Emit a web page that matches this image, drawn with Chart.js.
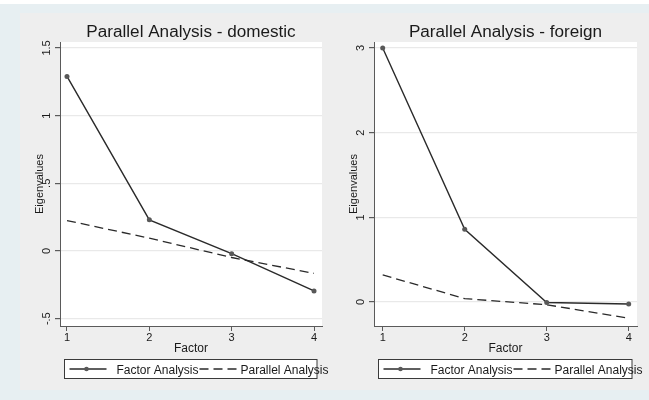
<!DOCTYPE html>
<html>
<head>
<meta charset="utf-8">
<title>Parallel Analysis</title>
<script src="https://cdn.jsdelivr.net/npm/chart.js@4.4.1/dist/chart.umd.min.js"></script>
<style>
  body { margin: 0; background: #ffffff; width: 649px; height: 400px; overflow: hidden; position: relative; }
  .outer { position: absolute; left: 0; top: 4px; width: 649px; height: 396px; background: #e7eff2; }
  .inner { position: absolute; left: 20px; top: 13px; width: 629px; height: 377px; background: #eeeeee; }
  canvas { position: absolute; top: 0; }
  #chartDomestic { left: 0; }
  #chartForeign { left: 330px; }
</style>
</head>
<body>
<div class="outer"></div>
<div class="inner"></div>
<canvas id="chartDomestic" width="330" height="400"></canvas>
<canvas id="chartForeign" width="319" height="400"></canvas>

<script>
// data
const factors = [1, 2, 3, 4];
const domesticFactor = [1.29, 0.23, -0.02, -0.295];
const domesticParallel = [0.225, 0.095, -0.048, -0.165];
const foreignFactor = [3.0, 0.86, -0.005, -0.024];
const foreignParallel = [0.32, 0.04, -0.032, -0.19];

const domesticTicks = [-0.5, 0, 0.5, 1, 1.5];
const domesticTickLabels = ['-.5', '0', '.5', '1', '1.5'];
const foreignTicks = [0, 1, 2, 3];
const foreignTickLabels = ['0', '1', '2', '3'];

const seriesNames = ['Factor Analysis', 'Parallel Analysis'];
const xTitle = 'Factor';
const yTitle = 'Eigenvalues';

const FONT = '"Liberation Sans", Arial, sans-serif';
const TEXT = '#1a1a1a';
const LINE = '#2a2a2a';
const AXIS = '#5a5a5a';

// white plot region + stata style text and legend
const decor = {
  id: 'decor',
  beforeDraw(chart) {
    const a = chart.chartArea;
    const ctx = chart.ctx;
    ctx.save();
    ctx.fillStyle = '#ffffff';
    ctx.fillRect(a.left, a.top, a.right - a.left, a.bottom - a.top);
    ctx.restore();
  },
  afterDraw(chart, args, opts) {
    const a = chart.chartArea;
    const ctx = chart.ctx;
    const xs = chart.scales.x;
    const ys = chart.scales.y;
    const midX = (a.left + a.right) / 2;
    ctx.save();
    ctx.fillStyle = TEXT;

    // title (stata text is a little wider)
    ctx.save();
    ctx.translate(midX, 36.5);
    ctx.scale(1.07, 1);
    ctx.font = '16px ' + FONT;
    ctx.textAlign = 'center';
    ctx.textBaseline = 'alphabetic';
    ctx.fillText(opts.title, 0, 0);
    ctx.restore();

    ctx.textAlign = 'center';
    ctx.textBaseline = 'alphabetic';

    // x tick labels
    ctx.font = '11px ' + FONT;
    factors.forEach(f => {
      ctx.fillText(String(f), xs.getPixelForValue(f), 341);
    });

    // x title
    ctx.font = '12px ' + FONT;
    ctx.fillText(xTitle, midX, 351.5);

    // y tick labels, rotated
    ctx.font = '11px ' + FONT;
    opts.ticks.forEach((v, i) => {
      ctx.save();
      ctx.translate(a.left - 10.5, ys.getPixelForValue(v));
      ctx.rotate(-Math.PI / 2);
      ctx.fillText(opts.tickLabels[i], 0, 0);
      ctx.restore();
    });

    // y title
    ctx.save();
    ctx.translate(a.left - 17.5, (a.top + a.bottom) / 2);
    ctx.rotate(-Math.PI / 2);
    ctx.font = '11px ' + FONT;
    ctx.fillText(yTitle, 0, 0);
    ctx.restore();

    // legend
    const bx = a.left + 4.5;
    const bw = (a.right - 5) - bx;
    const by = 359.5;
    const bh = 19;
    const ly = 369;
    ctx.fillStyle = '#ffffff';
    ctx.fillRect(bx, by, bw, bh);
    ctx.strokeStyle = '#3a3a3a';
    ctx.lineWidth = 1;
    ctx.strokeRect(bx, by, bw, bh);

    ctx.strokeStyle = LINE;
    ctx.lineWidth = 1.4;
    ctx.beginPath();
    ctx.moveTo(bx + 5, ly);
    ctx.lineTo(bx + 42, ly);
    ctx.stroke();
    ctx.fillStyle = '#585858';
    ctx.beginPath();
    ctx.arc(bx + 22, ly, 2.3, 0, Math.PI * 2);
    ctx.fill();

    ctx.setLineDash([9, 5]);
    ctx.beginPath();
    ctx.moveTo(bx + 135, ly);
    ctx.lineTo(bx + 172, ly);
    ctx.stroke();
    ctx.setLineDash([]);

    ctx.fillStyle = TEXT;
    ctx.font = '12px ' + FONT;
    ctx.textAlign = 'left';
    ctx.fillText(seriesNames[0], bx + 52, 373.5);
    ctx.fillText(seriesNames[1], bx + 176, 373.5);
    ctx.restore();
  }
};

function makePanel(canvasId, title, factorVals, parallelVals, yTicks, yLabels, yMin, yMax, xMin, xMax, axisWidth, padRight) {
  const ctx = document.getElementById(canvasId).getContext('2d');
  return new Chart(ctx, {
    type: 'line',
    data: {
      datasets: [
        {
          label: seriesNames[0],
          data: factors.map((f, i) => ({ x: f, y: factorVals[i] })),
          borderColor: LINE,
          borderWidth: 1.4,
          pointRadius: 2.5,
          pointBackgroundColor: '#585858',
          pointBorderWidth: 0,
          tension: 0
        },
        {
          label: seriesNames[1],
          data: factors.map((f, i) => ({ x: f, y: parallelVals[i] })),
          borderColor: LINE,
          borderWidth: 1.3,
          borderDash: [9, 5],
          pointRadius: 0,
          tension: 0
        }
      ]
    },
    options: {
      responsive: false,
      animation: false,
      layout: { padding: { left: 0, right: padRight, top: 42, bottom: 0 } },
      plugins: {
        legend: { display: false },
        tooltip: { enabled: false },
        title: { display: false },
        decor: { title: title, ticks: yTicks, tickLabels: yLabels }
      },
      scales: {
        x: {
          type: 'linear',
          min: xMin,
          max: xMax,
          afterBuildTicks: s => { s.ticks = factors.map(v => ({ value: v })); },
          afterFit: s => { s.height = 74; },
          ticks: { display: false },
          grid: { drawOnChartArea: false, drawTicks: true, tickLength: 5, tickColor: AXIS },
          border: { display: true, color: AXIS, width: 1 }
        },
        y: {
          type: 'linear',
          min: yMin,
          max: yMax,
          afterBuildTicks: s => { s.ticks = yTicks.map(v => ({ value: v })); },
          afterFit: s => { s.width = axisWidth; },
          ticks: { display: false },
          grid: { color: '#e9e9e9', lineWidth: 1.2, drawTicks: true, tickLength: 5, tickColor: AXIS },
          border: { display: true, color: AXIS, width: 1 }
        }
      }
    },
    plugins: [decor]
  });
}

makePanel('chartDomestic', 'Parallel Analysis - domestic', domesticFactor, domesticParallel,
  domesticTicks, domesticTickLabels, -0.554, 1.544, 0.915, 4.097, 60, 8);
makePanel('chartForeign', 'Parallel Analysis - foreign', foreignFactor, foreignParallel,
  foreignTicks, foreignTickLabels, -0.283, 3.071, 0.894, 4.101, 44, 12);
</script>
</body>
</html>
